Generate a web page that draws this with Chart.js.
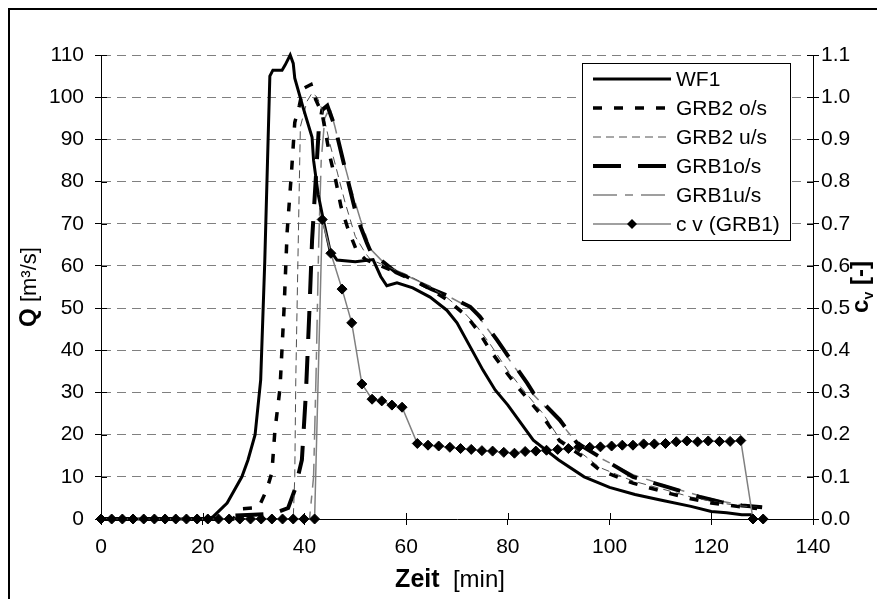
<!DOCTYPE html>
<html>
<head>
<meta charset="utf-8">
<title>Abfluss und Konzentration</title>
<script src="https://cdn.jsdelivr.net/npm/chart.js@4.4.1/dist/chart.umd.min.js"></script>
<style>
  html, body { margin: 0; padding: 0; background: #fff; }
  #wrap { position: relative; width: 877px; height: 599px; }
</style>
</head>
<body>
<div id="wrap"><canvas id="chart" width="877" height="599"></canvas></div>
<script>
// Achsen
const timeTicks = [0, 20, 40, 60, 80, 100, 120, 140];
const qTicks = [0, 10, 20, 30, 40, 50, 60, 70, 80, 90, 100, 110];
const cvTicks = [0.0, 0.1, 0.2, 0.3, 0.4, 0.5, 0.6, 0.7, 0.8, 0.9, 1.0, 1.1];

// WF1
const wf1T = [0, 21, 22, 24.8, 27.7, 28.9, 30.3, 31.4, 32.2, 33.2, 33.8, 35.6, 36.2, 37.2, 37.8, 38.1, 39.7, 41.5, 41.8, 42.7, 43.7, 45, 46.4, 50, 53.5, 55, 56.2, 58.2, 61.3, 64.7, 68, 70, 72.6, 75.1, 77.5, 80, 85, 90, 95, 100, 105, 110, 116, 120, 123, 126, 128];
const wf1Q = [0, 0, 0.5, 3.8, 10, 14, 20, 33, 61, 105, 106.4, 106.4, 107.6, 110, 108, 104.5, 97.7, 90.5, 85, 77, 71, 63.8, 61.4, 61, 61.5, 57.5, 55.3, 56, 54.8, 52.6, 49.5, 46.5, 40.8, 35.3, 30.6, 27, 18.7, 14, 10, 7.5, 5.8, 4.5, 3, 1.8, 1.5, 1, 1];

// GRB2 o/s
const g2oT = [0, 26, 27.5, 31, 32.6, 33.6, 34.2, 35.2, 36, 36.6, 37.5, 38.1, 39, 39.7, 41.3, 42.2, 43.5, 45, 46.2, 47.2, 48.5, 50.3, 52, 55, 60, 64, 68, 71, 72.6, 74.5, 76.5, 79.8, 82.4, 86.9, 90.2, 94.8, 98.1, 104.6, 111.3, 116, 120, 125, 129];
const g2oQ = [0, 0, 2.4, 2.7, 7, 11, 21, 31, 50, 68, 83, 94, 98, 102, 103, 99.5, 96, 86, 80, 74, 69, 63.5, 61.5, 60, 57.5, 55, 52, 49, 47, 44, 40, 34.6, 30.6, 24.2, 18.5, 14.7, 11.6, 8.5, 6.2, 4.8, 3.8, 3, 2.5];

// GRB2 u/s
const g2uT = [0, 37.8, 38.1, 38.3, 38.7, 39.2, 40.5, 41.5, 42.5, 43.5, 45, 46.5, 48, 50, 52, 53, 55, 60, 64, 68, 71, 74, 76.5, 79.8, 82.4, 86.9, 90.2, 94.8, 98.1, 104.6, 111.3, 116, 120, 125, 129];
const g2uQ = [0, 0, 10, 33, 60, 93, 99, 101, 100, 97, 89, 82, 75, 67, 63, 61.5, 60.5, 58, 55.5, 52.5, 49.5, 45.5, 41.5, 35.5, 31.5, 25, 19, 15.3, 12.2, 9, 6.8, 5.2, 4.2, 3.2, 2.8];

// GRB1 o/s
const g1oT = [0, 24, 26, 30, 34, 36.8, 38.1, 39.5, 40.3, 41, 41.5, 42.3, 42.8, 43.5, 44.5, 46, 47.6, 49, 50.3, 52.3, 53.5, 55, 58, 61.3, 65, 68, 72.6, 74.5, 77.9, 81, 83.8, 85, 90.2, 93.6, 98.1, 104.6, 111.3, 117.8, 122, 126, 130];
const g1oQ = [0, 0, 0.8, 1, 1.3, 2.6, 6.9, 14, 30, 50, 66, 82, 92, 97, 98, 93, 85, 78, 71.6, 65.4, 62, 61.4, 58.5, 56.7, 54.5, 53, 50.3, 48, 42.4, 37, 32.2, 29.9, 23.5, 18, 14.7, 10, 7.6, 5.2, 4, 3.2, 2.8];

// GRB1 u/s
const g1uT = [0, 41, 41.8, 42.3, 42.8, 43.3, 44, 45, 46, 47, 49, 51, 53, 55, 58, 61.3, 65, 68, 72.6, 74.5, 77.9, 81, 83.8, 85, 90.2, 93.6, 98.1, 104.6, 111.3, 117.8, 122, 126, 130];
const g1uQ = [0, 0, 10, 35, 65, 85, 95, 97.5, 93, 88, 79, 71, 64, 61.5, 59, 57, 55, 53, 50, 47.5, 42, 36.5, 32, 29.5, 23, 18, 14.5, 10.5, 7.8, 5.5, 4.2, 3.3, 2.9];

// c v (GRB1)
const cvT = [0, 2.1, 4.2, 6.3, 8.4, 10.5, 12.6, 14.7, 16.8, 18.9, 21, 23.1, 25.2, 27.3, 29.4, 31.5, 33.6, 35.7, 37.8, 39.9, 42,
  43.5, 45.2, 47.4, 49.3, 51.3, 53.3, 55.2, 57.2, 59.2,
  62.2, 64.3, 66.4, 68.6, 70.7, 72.8, 74.9, 77.0, 79.2, 81.3, 83.4, 85.5, 87.6, 89.8, 91.9, 94.0, 96.1, 98.2, 100.4, 102.5,
  104.6, 106.7, 108.8, 111.0, 113.1, 115.2, 117.3, 119.4, 121.6, 123.7, 125.8, 128.2, 130.2];
const cvV = [0, 0, 0, 0, 0, 0, 0, 0, 0, 0, 0, 0, 0, 0, 0, 0, 0, 0, 0, 0, 0,
  0.71, 0.63, 0.545, 0.465, 0.32, 0.284, 0.28, 0.27, 0.265,
  0.179, 0.175, 0.173, 0.170, 0.167, 0.165, 0.162, 0.161, 0.158, 0.156, 0.160, 0.161, 0.163, 0.165, 0.167, 0.171, 0.170, 0.171, 0.173, 0.175,
  0.175, 0.178, 0.178, 0.179, 0.183, 0.185, 0.183, 0.185, 0.184, 0.184, 0.186, 0, 0];

function pts(t, v) {
  return t.map((x, i) => ({ x: x, y: v[i] }));
}

const FONT = '"Liberation Sans", Arial, sans-serif';

const series = [
  { label: 'WF1', t: wf1T, v: wf1Q, color: '#000', width: 3, dash: [] },
  { label: 'GRB2 o/s', t: g2oT, v: g2oQ, color: '#000', width: 3.5, dash: [9, 12] },
  { label: 'GRB2 u/s', t: g2uT, v: g2uQ, color: '#505050', width: 1, dash: [8, 5] },
  { label: 'GRB1o/s', t: g1oT, v: g1oQ, color: '#000', width: 4, dash: [28, 17] },
  { label: 'GRB1u/s', t: g1uT, v: g1uQ, color: '#808080', width: 1.5, dash: [24, 8, 8, 8] }
];

const datasets = [{
  label: 'c v (GRB1)',
  data: pts(cvT, cvV),
  yAxisID: 'y1',
  borderColor: '#808080',
  borderWidth: 1.5,
  pointStyle: 'rectRot',
  pointRadius: 5,
  pointBackgroundColor: '#000',
  pointBorderColor: '#000',
  pointBorderWidth: 1,
  clip: false
}];
series.forEach(s => {
  datasets.push({
    label: s.label,
    data: pts(s.t, s.v),
    yAxisID: 'y',
    borderColor: s.color,
    borderWidth: s.width,
    borderDash: s.dash,
    pointRadius: 0,
    clip: false
  });
});

// Achsentitel, Legende, Rahmen
const extras = {
  id: 'extras',
  beforeDraw(chart) {
    const ctx = chart.ctx;
    ctx.save();
    ctx.fillStyle = '#fff';
    ctx.fillRect(0, 0, chart.width, chart.height);
    ctx.restore();
  },
  afterDatasetsDraw(chart) {
    // Teilstriche nach innen
    const { ctx, chartArea: a, scales } = chart;
    ctx.save();
    ctx.strokeStyle = '#000';
    ctx.lineWidth = 1;
    ctx.beginPath();
    qTicks.forEach(v => {
      const y = Math.round(scales.y.getPixelForValue(v)) + 0.5;
      ctx.moveTo(a.left, y); ctx.lineTo(a.left + 6, y);
      ctx.moveTo(a.right - 6, y); ctx.lineTo(a.right, y);
    });
    timeTicks.forEach(v => {
      const x = Math.round(scales.x.getPixelForValue(v)) + 0.5;
      ctx.moveTo(x, a.bottom - 6); ctx.lineTo(x, a.bottom);
    });
    ctx.stroke();
    ctx.restore();
  },
  afterDraw(chart) {
    const ctx = chart.ctx;
    const a = chart.chartArea;
    const cy = (a.top + a.bottom) / 2;

    drawParts(ctx, [
      { text: 'Q', font: 'bold 24px ' + FONT },
      { text: ' [m³/s]', font: '22px ' + FONT }
    ], 27, cy, true);
    drawParts(ctx, [
      { text: 'c', font: 'bold 24px ' + FONT },
      { text: 'v', font: 'bold 14px ' + FONT, dy: 5 },
      { text: ' [-]', font: 'bold 24px ' + FONT }
    ], 859, cy, true);
    drawParts(ctx, [
      { text: 'Zeit', font: 'bold 25px ' + FONT },
      { text: '  [min]', font: '24px ' + FONT }
    ], 450, 578, false);

    // Legende
    const box = { x: 582, y: 63, w: 208, h: 177 };
    ctx.save();
    ctx.fillStyle = '#fff';
    ctx.fillRect(box.x, box.y, box.w, box.h);
    ctx.strokeStyle = '#000';
    ctx.lineWidth = 1;
    ctx.strokeRect(box.x + 0.5, box.y + 0.5, box.w, box.h);
    ctx.font = '21px ' + FONT;
    ctx.textBaseline = 'middle';
    ctx.fillStyle = '#000';
    const rows = series.concat([{ label: 'c v (GRB1)', color: '#808080', width: 1.5, dash: [], marker: true }]);
    rows.forEach((r, i) => {
      const y = 79 + i * 29;
      ctx.save();
      ctx.strokeStyle = r.color;
      ctx.lineWidth = r.width;
      ctx.setLineDash(r.dash);
      ctx.beginPath();
      ctx.moveTo(593, y); ctx.lineTo(671, y);
      ctx.stroke();
      ctx.restore();
      if (r.marker) {
        ctx.beginPath();
        ctx.moveTo(632, y - 5); ctx.lineTo(637, y); ctx.lineTo(632, y + 5); ctx.lineTo(627, y);
        ctx.closePath();
        ctx.fill();
      }
      ctx.fillText(r.label, 676, y + 1);
    });
    ctx.restore();

    // Rahmen
    ctx.save();
    ctx.strokeStyle = '#000';
    ctx.lineWidth = 2;
    ctx.strokeRect(9, 9, 1000, 1000);
    ctx.restore();
  }
};

function drawParts(ctx, parts, cx, cy, rot) {
  ctx.save();
  ctx.translate(cx, cy);
  if (rot) ctx.rotate(-Math.PI / 2);
  let total = 0;
  parts.forEach(p => { ctx.font = p.font; p.w = ctx.measureText(p.text).width; total += p.w; });
  let x = -total / 2;
  ctx.fillStyle = '#000';
  ctx.textBaseline = 'alphabetic';
  parts.forEach(p => {
    ctx.font = p.font;
    ctx.fillText(p.text, x, 9 + (p.dy || 0));
    x += p.w;
  });
  ctx.restore();
}

const tickFont = { family: FONT, size: 21 };

new Chart(document.getElementById('chart'), {
  type: 'line',
  data: { datasets: datasets },
  options: {
    responsive: false,
    animation: false,
    layout: { padding: { top: 55, left: 0, right: 0, bottom: 0 } },
    elements: { line: { tension: 0 } },
    plugins: { legend: { display: false }, tooltip: { enabled: false } },
    scales: {
      x: {
        type: 'linear',
        min: 0,
        max: 140,
        afterBuildTicks: s => { s.ticks = timeTicks.map(v => ({ value: v })); },
        afterFit: s => { s.height = 80; },
        ticks: { font: tickFont, color: '#000', padding: 10, maxRotation: 0 },
        grid: { drawOnChartArea: false, tickLength: 6, tickColor: '#000' },
        border: { color: '#000', width: 1 }
      },
      y: {
        position: 'left',
        min: 0,
        max: 110,
        afterBuildTicks: s => { s.ticks = qTicks.map(v => ({ value: v })); },
        afterFit: s => { s.width = 101; },
        ticks: { font: tickFont, color: '#000', padding: 11 },
        grid: { color: '#808080', lineWidth: 1, tickLength: 6, tickColor: '#000' },
        border: { color: '#000', width: 1, dash: [9, 6] }
      },
      y1: {
        position: 'right',
        min: 0,
        max: 1.1,
        afterBuildTicks: s => { s.ticks = cvTicks.map(v => ({ value: v })); },
        afterFit: s => { s.width = 64; },
        ticks: { font: tickFont, color: '#000', padding: 2, callback: v => v.toFixed(1) },
        grid: { drawOnChartArea: false, tickLength: 6, tickColor: '#000' },
        border: { color: '#000', width: 1 }
      }
    }
  },
  plugins: [extras]
});
</script>
</body>
</html>
